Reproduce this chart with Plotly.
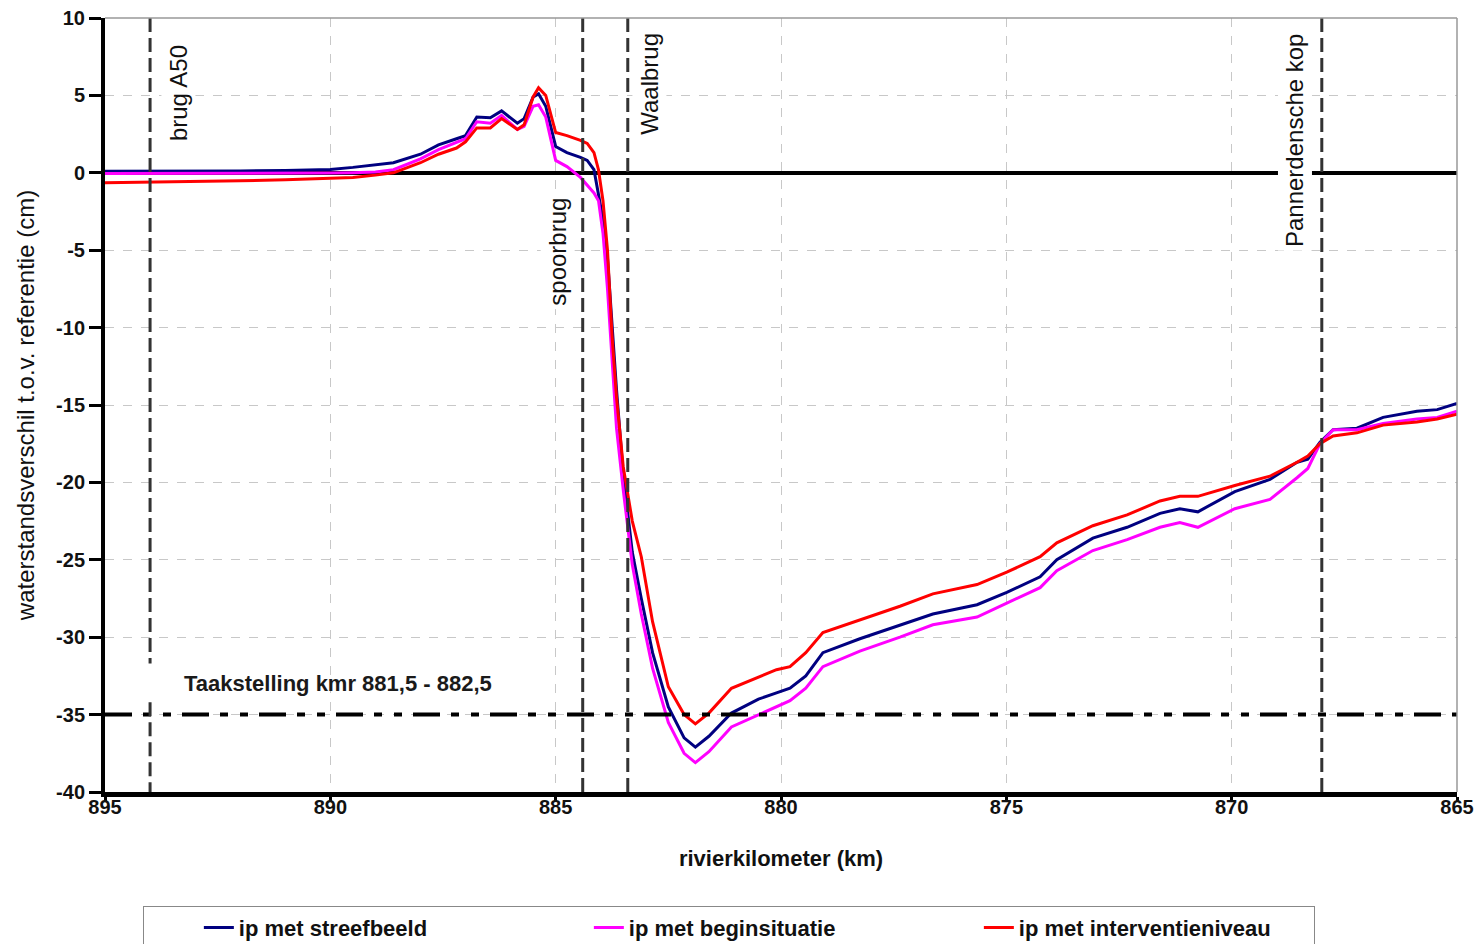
import plotly.graph_objects as go

# ---------------- data ----------------
km = [895.0, 894.0, 893.0, 892.0, 891.0, 890.0, 889.5, 889.0, 888.6, 888.0,
      887.6, 887.2, 887.0, 886.75, 886.45, 886.2, 885.85, 885.7, 885.5, 885.38,
      885.22, 885.0, 884.75, 884.45, 884.3, 884.15, 884.05, 883.95, 883.85, 883.75,
      883.65, 883.5, 883.3, 883.1, 882.85, 882.5, 882.15, 881.9, 881.6, 881.1,
      880.5, 880.1, 879.8, 879.45, 879.07, 878.25, 877.36, 876.63, 875.65, 874.99,
      874.25, 873.88, 873.08, 872.32, 871.59, 871.15, 870.75, 869.93, 869.15, 868.55,
      868.31, 868.04, 867.75, 867.22, 866.64, 865.89, 865.44, 865.0]

streefbeeld = [0.10, 0.10, 0.10, 0.12, 0.15, 0.22, 0.35, 0.50, 0.65, 1.20,
               1.80, 2.20, 2.40, 3.60, 3.55, 4.00, 3.20, 3.50, 4.90, 5.10,
               4.30, 1.70, 1.30, 1.00, 0.80, 0.20, -1.30, -3.00, -5.50, -10.0,
               -14.0, -19.5, -24.5, -27.5, -31.0, -34.5, -36.5, -37.1, -36.4, -34.9,
               -34.0, -33.6, -33.3, -32.5, -31.0, -30.1, -29.2, -28.5, -27.9, -27.1,
               -26.1, -25.0, -23.6, -22.9, -22.0, -21.7, -21.9, -20.6, -19.8, -18.7,
               -18.5, -17.4, -16.6, -16.5, -15.8, -15.4, -15.3, -14.9]

beginsituatie = [-0.05, -0.05, -0.05, -0.05, -0.05, -0.02, 0.00, 0.05, 0.20, 0.90,
                 1.50, 1.95, 2.20, 3.30, 3.20, 3.70, 2.80, 3.00, 4.30, 4.40,
                 3.60, 0.80, 0.40, -0.30, -0.80, -1.30, -1.80, -3.90, -7.50, -12.0,
                 -16.5, -20.5, -25.3, -28.5, -32.0, -35.5, -37.5, -38.1, -37.4, -35.8,
                 -35.0, -34.5, -34.1, -33.3, -31.9, -30.9, -30.0, -29.2, -28.7, -27.8,
                 -26.8, -25.7, -24.4, -23.7, -22.9, -22.6, -22.9, -21.7, -21.1, -19.7,
                 -19.1, -17.5, -16.6, -16.6, -16.2, -15.9, -15.8, -15.4]

interventieniveau = [-0.65, -0.62, -0.58, -0.52, -0.45, -0.38, -0.30, -0.15, 0.00, 0.65,
                     1.20, 1.60, 2.00, 2.90, 2.90, 3.50, 2.80, 3.10, 4.90, 5.50,
                     5.00, 2.60, 2.40, 2.10, 1.90, 1.30, 0.20, -1.80, -5.00, -10.5,
                     -14.5, -19.0, -22.5, -24.8, -29.0, -33.2, -35.0, -35.6, -34.9, -33.3,
                     -32.6, -32.1, -31.9, -31.0, -29.7, -28.9, -28.0, -27.2, -26.6, -25.8,
                     -24.8, -23.9, -22.8, -22.1, -21.2, -20.9, -20.9, -20.2, -19.6, -18.7,
                     -18.3, -17.5, -17.0, -16.8, -16.3, -16.1, -15.9, -15.6]

series_names = ["ip met streefbeeld", "ip met beginsituatie", "ip met interventieniveau"]
series_colors = ["#000080", "#FF00FF", "#FF0000"]

x_ticks = [895, 890, 885, 880, 875, 870, 865]
y_ticks = [10, 5, 0, -5, -10, -15, -20, -25, -30, -35, -40]

bridge_km = [894.0, 884.4, 883.4, 868.0]
bridge_names = ["brug A50", "spoorbrug", "Waalbrug", "Pannerdensche kop"]
label_km = [893.38, 884.95, 882.91, 868.6]
label_y = [5.15, -5.1, 5.74, 2.1]

taakstelling = -35
taak_text = "Taakstelling kmr 881,5 - 882,5"
taak_pos = (893.29, -32.96)
a50_gap = (-31.7, -34.2)

FONT = "Liberation Sans, Arial, sans-serif"

# ---------------- figure ----------------
fig = go.Figure()
for name, col, ys in zip(series_names, series_colors,
                         [streefbeeld, beginsituatie, interventieniveau]):
    fig.add_trace(go.Scatter(x=km, y=ys, mode="lines", name=name,
                             line=dict(color=col, width=3)))

shapes = []
# target line (dash-dot)
shapes.append(dict(type="line", xref="x", yref="y", x0=895, x1=865,
                   y0=taakstelling, y1=taakstelling, layer="above",
                   line=dict(color="black", width=4,
                             dash="27px,11px,8px,12px,8px,11px")))
# bridge lines
for i, b in enumerate(bridge_km):
    if i == 0:
        segs = [(10, a50_gap[0]), (a50_gap[1], -40)]
    else:
        segs = [(10, -40)]
    for y0, y1 in segs:
        shapes.append(dict(type="line", xref="x", yref="y", x0=b, x1=b,
                           y0=y0, y1=y1, layer="above",
                           line=dict(color="#333333", width=3, dash="14px,6px")))
# top & right frame
shapes.append(dict(type="line", xref="paper", yref="paper", x0=0, x1=1, y0=1, y1=1,
                   line=dict(color="#999999", width=1.5)))
shapes.append(dict(type="line", xref="paper", yref="paper", x0=1, x1=1, y0=0, y1=1,
                   line=dict(color="#999999", width=1.5)))

annotations = []
for name, lx, ly in zip(bridge_names, label_km, label_y):
    annotations.append(dict(x=lx, y=ly, xref="x", yref="y", text=name,
                            textangle=-90, showarrow=False, bgcolor="white",
                            borderpad=3,
                            font=dict(family=FONT, size=24, color="#111111")))
annotations.append(dict(x=taak_pos[0], y=taak_pos[1], xref="x", yref="y",
                        text=taak_text, showarrow=False, xanchor="left",
                        font=dict(family=FONT, size=22, weight="bold", color="#1a1a1a")))

fig.update_layout(
    width=1474, height=936,
    margin=dict(l=97, r=25, t=10, b=152, autoexpand=False),
    paper_bgcolor="white", plot_bgcolor="white",
    font=dict(family=FONT, color="black"),
    shapes=shapes, annotations=annotations,
    showlegend=True,
    legend=dict(orientation="h", x=0.028, xanchor="left", y=-0.147, yanchor="top",
                bordercolor="#888888", borderwidth=1, bgcolor="white",
                entrywidth=290, entrywidthmode="pixels", indentation=55,
                font=dict(family=FONT, size=22, weight="bold", color="#111111")),
)

fig.update_xaxes(
    range=[895, 865], tickvals=x_ticks, ticktext=[str(t) for t in x_ticks],
    ticks="outside", ticklen=5, tickwidth=3, tickcolor="black",
    showline=True, linewidth=5, linecolor="black",
    showgrid=True, gridcolor="#c8c8c8", griddash="dash", gridwidth=1,
    zeroline=False, automargin=False, ticklabeloverflow="allow",
    ticklabelstandoff=-12,
    tickfont=dict(family=FONT, size=20, weight="bold", color="#111111"),
    title=dict(text="rivierkilometer (km)", standoff=35,
               font=dict(family=FONT, size=22, weight="bold", color="#111111")),
)
fig.update_yaxes(
    range=[-40, 10], tickvals=y_ticks, ticktext=[str(t) for t in y_ticks],
    ticks="outside", ticklen=12, tickwidth=3, tickcolor="black",
    showline=True, linewidth=4, linecolor="black",
    showgrid=True, gridcolor="#c8c8c8", griddash="dash", gridwidth=1,
    zeroline=True, zerolinecolor="black", zerolinewidth=4, automargin=False,
    ticklabeloverflow="allow",
    tickfont=dict(family=FONT, size=20, weight="bold", color="#111111"),
    title=dict(text="waterstandsverschil t.o.v. referentie (cm)", standoff=16,
               font=dict(family=FONT, size=24, color="#111111")),
)

fig.write_html("out.html")
